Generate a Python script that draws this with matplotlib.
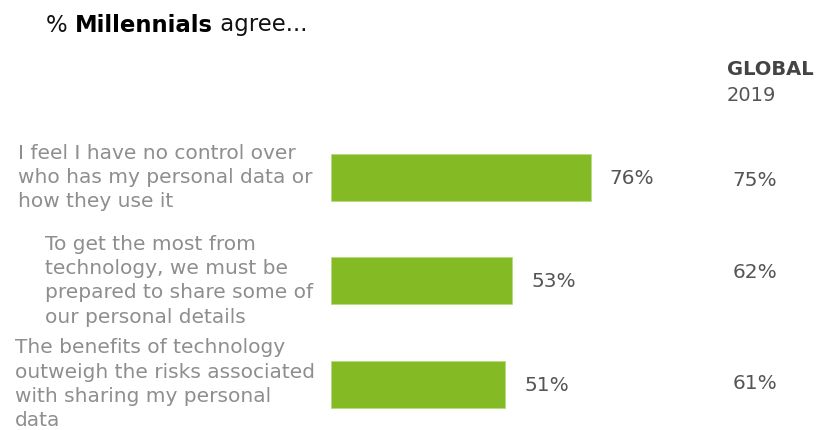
import matplotlib
matplotlib.use("Agg")
import matplotlib.pyplot as plt

# Survey statements and shares agreeing
statements = [
    "I feel I have no control over\nwho has my personal data or\nhow they use it",
    "To get the most from\ntechnology, we must be\nprepared to share some of\nour personal details",
    "The benefits of technology\noutweigh the risks associated\nwith sharing my personal\ndata",
]
millennials_2019 = [76, 53, 51]
global_2019 = [75, 62, 61]

GREEN = "#84BB25"
LABEL_GREY = "#8E8E8E"
VALUE_GREY = "#555555"

# left edge of each statement block, in percent units of the bar axis
statement_x = [-91.5, -83.6, -92.4]
# small vertical nudges for the global column
global_dy = [0.03, -0.08, -0.01]

W, H = 816, 430
fig = plt.figure(figsize=(W / 100, H / 100), dpi=100)
fig.patch.set_facecolor("white")

# axis placed so that 0% sits at x=331px, 3.42px per percent point
x0_px, px_per_pct = 331, 3.42
top_px, row_px = 126, 103.25
ax = fig.add_axes([x0_px / W, 1 - (top_px + 2.9 * row_px) / H,
                   100 * px_per_pct / W, 2.9 * row_px / H])
ax.set_xlim(0, 100)
ax.set_ylim(2.4, -0.5)
ax.axis("off")

rows = list(range(len(statements)))
ax.barh(rows, millennials_2019, height=0.455, color=GREEN,
        edgecolor="#B9DA7E", linewidth=0.6)

for i, (text, val, glob) in enumerate(zip(statements, millennials_2019, global_2019)):
    ax.text(statement_x[i], i, text, ha="left", va="center", fontsize=14.5,
            color=LABEL_GREY, linespacing=1.34, clip_on=False)
    ax.text(val + 5.5, i + 0.01, f"{val}%", ha="left", va="center", fontsize=14.5,
            color=VALUE_GREY, clip_on=False)
    ax.text(117.5, i + global_dy[i], f"{glob}%", ha="left", va="center",
            fontsize=14.5, color=VALUE_GREY, clip_on=False)

# column header for the global figures
ax.text(115.8, -1.05, "GLOBAL", ha="left", va="center", fontsize=14,
        fontweight="bold", color="#444444", clip_on=False)
ax.text(115.8, -0.8, "2019", ha="left", va="center", fontsize=14,
        color=VALUE_GREY, clip_on=False)

# title with a bold middle word
t1 = fig.text(46 / W, 1 - 25 / H, "% ", ha="left", va="center",
              fontsize=16.4, color="#111111")
t2 = plt.annotate("Millennials", xy=(1, 0), xycoords=t1, ha="left",
                  va="bottom", fontsize=16.4, fontweight="bold", color="#000000")
plt.annotate(" agree...", xy=(1, 0), xycoords=t2, ha="left", va="bottom",
             fontsize=16.4, color="#111111")

fig.savefig("out.png", dpi=100, facecolor="white")
